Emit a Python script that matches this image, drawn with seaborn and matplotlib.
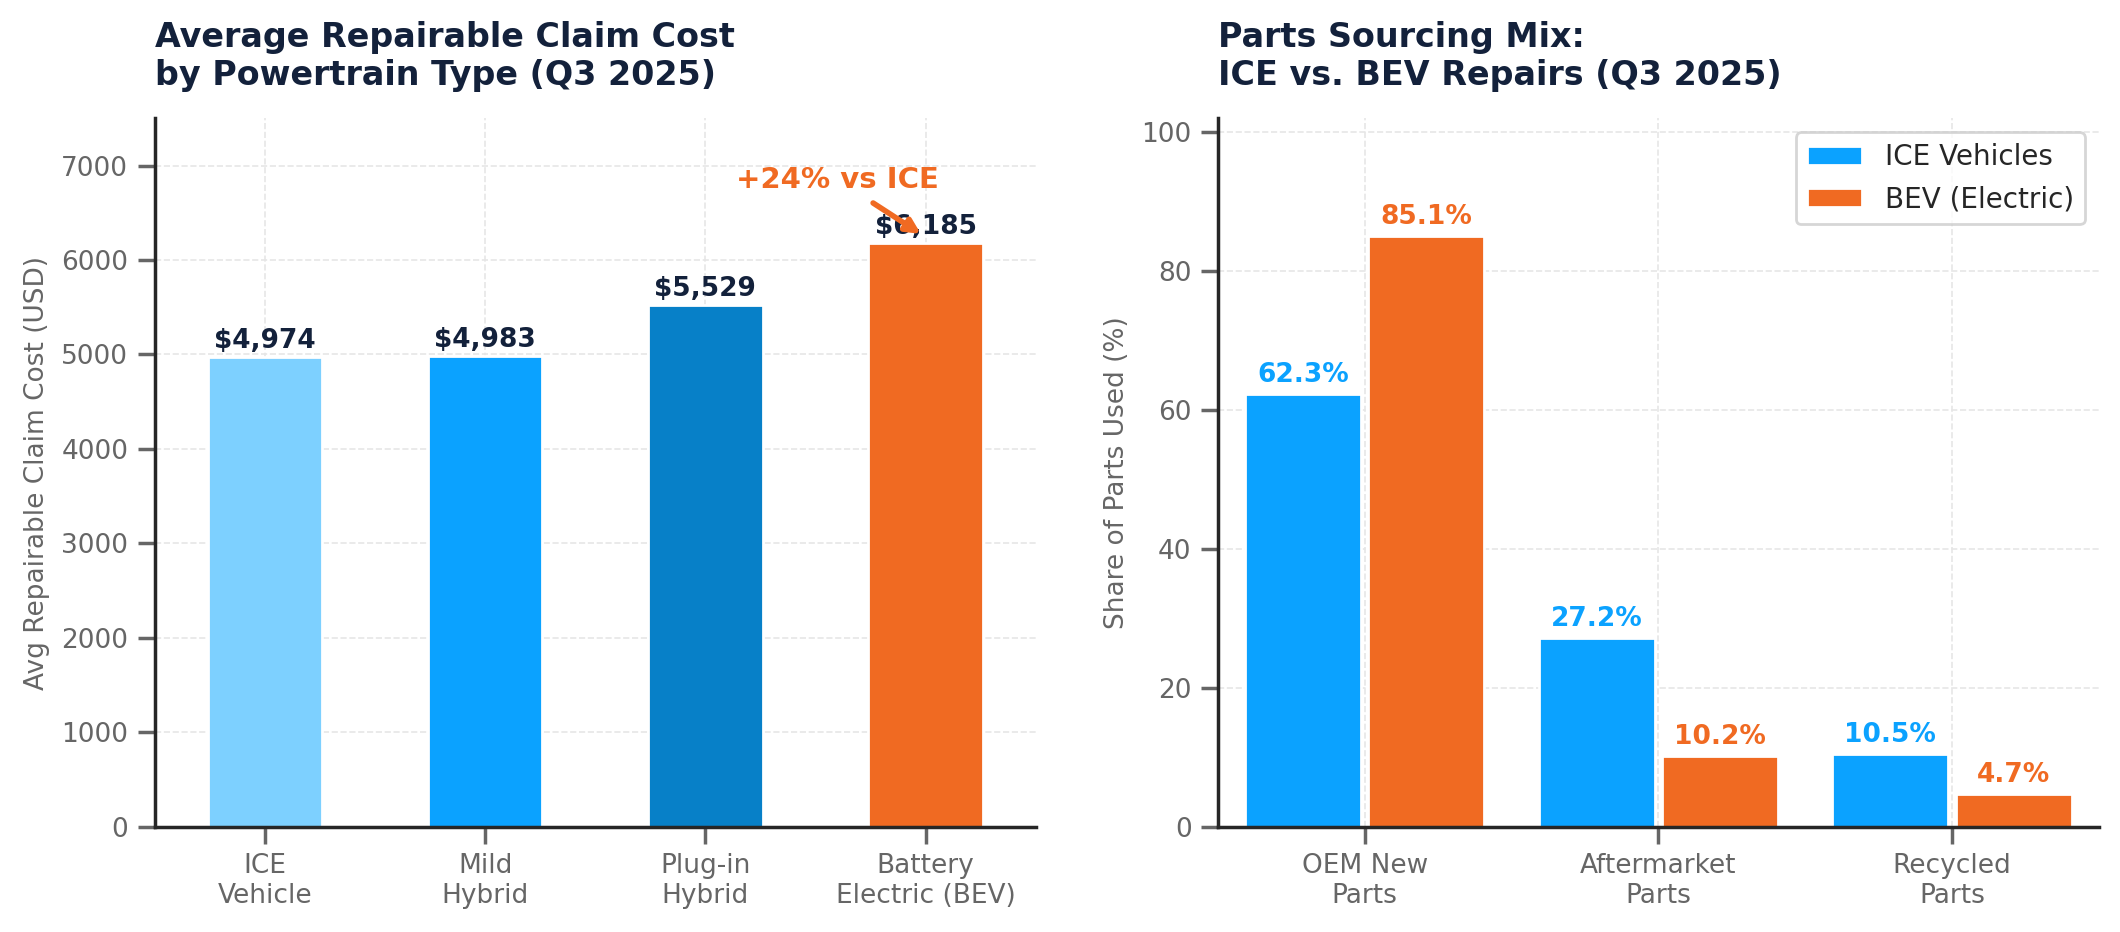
import seaborn as sns
import matplotlib.pyplot as plt
import pandas as pd

powertrains = ["ICE\nVehicle", "Mild\nHybrid", "Plug-in\nHybrid", "Battery\nElectric (BEV)"]
claim_cost = [4974, 4983, 5529, 6185]
bar_colors = ["#7DD0FF", "#0BA2FF", "#0780C8", "#F06A22"]

part_types = ["OEM New\nParts", "Aftermarket\nParts", "Recycled\nParts"]
ice_share = [62.3, 27.2, 10.5]
bev_share = [85.1, 10.2, 4.7]

navy = "#13213B"
blue = "#0BA2FF"
orange = "#F06A22"
grey = "#666666"

sns.set_theme(style="ticks")
plt.rcParams['font.family'] = ['DejaVu Sans']

fig, (ax1, ax2) = plt.subplots(1, 2, figsize=(10.6, 4.66), dpi=200)

# left panel
df1 = pd.DataFrame({"type": powertrains, "cost": claim_cost})
sns.barplot(data=df1, x="type", y="cost", hue="type", palette=bar_colors,
            width=0.52, legend=False, ax=ax1, saturation=1)
for i, v in enumerate(claim_cost):
    ax1.text(i, v + 30, f"${v:,}", ha="center", va="bottom", fontsize=9.5,
             fontweight="bold", color=navy)
ax1.annotate("+24% vs ICE", xy=(3, claim_cost[3] + 60), xytext=(2.6, 6700),
             ha="center", va="bottom", fontsize=10.5, fontweight="bold", color=orange,
             arrowprops=dict(arrowstyle="-|>", color=orange, lw=2))
ax1.set_ylim(0, 7500)
ax1.set_yticks(range(0, 7001, 1000))
ax1.set_xlabel("")
ax1.set_ylabel("Avg Repairable Claim Cost (USD)", color=grey, fontsize=9.5)
ax1.set_title("Average Repairable Claim Cost\nby Powertrain Type (Q3 2025)", loc="left",
              fontsize=12, fontweight="bold", color=navy, pad=12)

# right panel
df2 = pd.DataFrame({
    "part": part_types * 2,
    "share": ice_share + bev_share,
    "group": ["ICE Vehicles"] * 3 + ["BEV (Electric)"] * 3,
})
sns.barplot(data=df2, x="part", y="share", hue="group", palette=[blue, orange],
            width=0.84, gap=0.06, ax=ax2, saturation=1)
for cont, col in zip(ax2.containers, [blue, orange]):
    ax2.bar_label(cont, labels=[f"{b.get_height():.1f}%" for b in cont], padding=2,
                  fontsize=9.5, fontweight="bold", color=col)
ax2.set_ylim(0, 102)
ax2.set_yticks(range(0, 101, 20))
ax2.set_xlabel("")
ax2.set_ylabel("Share of Parts Used (%)", color=grey, fontsize=9.5)
ax2.legend(title=None, fontsize=10, loc="upper right", frameon=True)
ax2.set_title("Parts Sourcing Mix:\nICE vs. BEV Repairs (Q3 2025)", loc="left",
              fontsize=12, fontweight="bold", color=navy, pad=12)

for ax in (ax1, ax2):
    sns.despine(ax=ax)
    ax.grid(True, ls="--", lw=0.6, color="#E6E6E6")
    ax.set_axisbelow(True)
    ax.tick_params(colors=grey, labelsize=9.5)

fig.subplots_adjust(left=0.073, right=0.99, bottom=0.113, top=0.873, wspace=0.207)
fig.savefig("out.png")
